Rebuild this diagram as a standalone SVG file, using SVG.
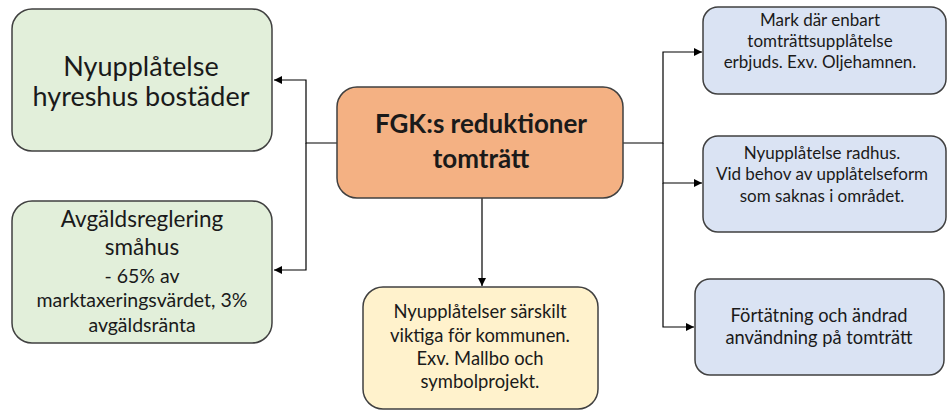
<svg xmlns="http://www.w3.org/2000/svg" width="952" height="410" viewBox="0 0 952 410">
<defs>
<marker id="ah" viewBox="0 0 10 10" refX="10" refY="5" markerWidth="8" markerHeight="8" markerUnits="userSpaceOnUse" orient="auto">
<path d="M0,0 L10,5 L0,10 z" fill="#000"/>
</marker>
</defs>
<style>
.box{stroke:#404040;stroke-width:1.5}
.g{fill:#E2EFDA}.o{fill:#F4B183}.y{fill:#FFF2CC}.b{fill:#DAE3F3}
text{font-family:Lato,"Liberation Sans",sans-serif;fill:#1a1a1a;text-anchor:middle}
.c{stroke:#000;stroke-width:1.2;fill:none}
</style>
<rect width="952" height="410" fill="#fff"/>
<g id="connectors">
<path class="c" d="M337,143 H306 V80 H274" marker-end="url(#ah)"/>
<path class="c" d="M306,143 V270 H274" marker-end="url(#ah)"/>
<path class="c" d="M482,198 V286" marker-end="url(#ah)"/>
<path class="c" d="M623,143 H663 V52 H702" marker-end="url(#ah)"/>
<path class="c" d="M663,143 V183 H702" marker-end="url(#ah)"/>
<path class="c" d="M663,183 V327 H694" marker-end="url(#ah)"/>
</g>
<g id="n1">
<rect class="box g" x="12" y="9" width="260" height="142" rx="20"/>
<text font-size="27"><tspan x="141" y="76">Nyupplåtelse</tspan><tspan x="141" y="106">hyreshus bostäder</tspan></text>
</g>
<g id="n2">
<rect class="box g" x="12" y="201" width="260" height="142" rx="20"/>
<text font-size="22.5"><tspan x="142" y="227">Avgäldsreglering</tspan><tspan x="142" y="255">småhus</tspan></text>
<text font-size="19.5"><tspan x="142" y="283">- 65% av</tspan><tspan x="142" y="307">marktaxeringsvärdet, 3%</tspan><tspan x="142" y="332">avgäldsränta</tspan></text>
</g>
<g id="center">
<rect class="box o" x="337" y="87" width="286" height="111" rx="20"/>
<text font-size="26" font-weight="bold"><tspan x="481" y="133">FGK:s reduktioner</tspan><tspan x="481" y="168">tomträtt</tspan></text>
</g>
<g id="n3">
<rect class="box y" x="363" y="287" width="235" height="122" rx="20"/>
<text font-size="18.4"><tspan x="480" y="318">Nyupplåtelser särskilt</tspan><tspan x="480" y="342">viktiga för kommunen.</tspan><tspan x="480" y="365">Exv. Mallbo och</tspan><tspan x="480" y="388">symbolprojekt.</tspan></text>
</g>
<g id="r1">
<rect class="box b" x="703" y="7" width="243" height="87" rx="15"/>
<text font-size="17"><tspan x="820" y="26">Mark där enbart</tspan><tspan x="820" y="47">tomträttsupplåtelse</tspan><tspan x="820" y="68">erbjuds. Exv. Oljehamnen.</tspan></text>
</g>
<g id="r2">
<rect class="box b" x="703" y="136" width="243" height="96" rx="15"/>
<text font-size="17"><tspan x="822" y="159">Nyupplåtelse radhus.</tspan><tspan x="822" y="180">Vid behov av upplåtelseform</tspan><tspan x="822" y="202">som saknas i området.</tspan></text>
</g>
<g id="r3">
<rect class="box b" x="695" y="279" width="249" height="96" rx="15"/>
<text font-size="18.3"><tspan x="819" y="322">Förtätning och ändrad</tspan><tspan x="819" y="344">användning på tomträtt</tspan></text>
</g>
</svg>
